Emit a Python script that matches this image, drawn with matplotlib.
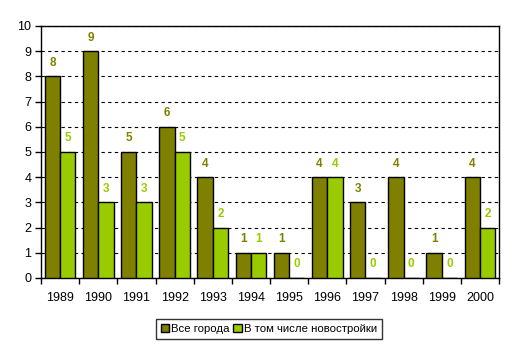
import matplotlib
matplotlib.use("Agg")
import matplotlib.pyplot as plt
import numpy as np

plt.rcParams['font.family'] = ['Liberation Sans', 'DejaVu Sans']

years = ["1989", "1990", "1991", "1992", "1993", "1994", "1995", "1996", "1997", "1998", "1999", "2000"]
all_cities = [8, 9, 5, 6, 4, 1, 1, 4, 3, 4, 1, 4]
new_cities = [5, 3, 3, 5, 2, 1, 0, 4, 0, 0, 0, 2]
series_names = ["Все города", "В том числе новостройки"]
c_all = "#808000"
c_new = "#99cc00"

fig = plt.figure(figsize=(5.14, 3.49), dpi=100)
ax = fig.add_axes([41/514, 71/349, 458/514, 252/349])

x = np.arange(len(years))
w = 0.4
ax.bar(x - w/2, all_cities, w, color=c_all, edgecolor="black", linewidth=1, label=series_names[0], zorder=3)
ax.bar(x + w/2, new_cities, w, color=c_new, edgecolor="black", linewidth=1, label=series_names[1], zorder=3)

for xi, v in zip(x, all_cities):
    ax.text(xi - w/2, v + 0.3, str(v), ha="center", va="bottom", color=c_all, fontsize=8.5, fontweight="bold")
for xi, v in zip(x, new_cities):
    ax.text(xi + w/2, v + 0.3, str(v), ha="center", va="bottom", color=c_new, fontsize=8.5, fontweight="bold")

ax.set_xlim(-0.5, len(years) - 0.5)
ax.set_ylim(0, 10)
ax.set_yticks(range(0, 11))
ax.set_yticklabels([str(i) for i in range(0, 11)], fontsize=9)
ax.set_xticks(x)
ax.set_xticklabels(years, fontsize=9)
ax.tick_params(axis="x", length=0, pad=10)
ax.set_xticks(np.arange(-0.5, len(years)), minor=True)
ax.tick_params(axis="x", which="minor", length=4, direction="out", width=1)
ax.tick_params(axis="y", length=4, direction="out", width=1, pad=3)
ax.yaxis.grid(True, linestyle=(0, (3, 3)), color="black", linewidth=0.8, zorder=0)
for s in ax.spines.values():
    s.set_linewidth(1)
    s.set_color("black")

leg = fig.legend(loc="center", bbox_to_anchor=(269/514, 1 - 329/349), ncol=2, fontsize=8.2,
                 frameon=True, fancybox=False, edgecolor="black", handlelength=0.75, handleheight=0.75,
                 handletextpad=0.2, columnspacing=0.3, borderpad=0.4, borderaxespad=0)
leg.get_frame().set_linewidth(1)

fig.savefig("out.png", dpi=100)
